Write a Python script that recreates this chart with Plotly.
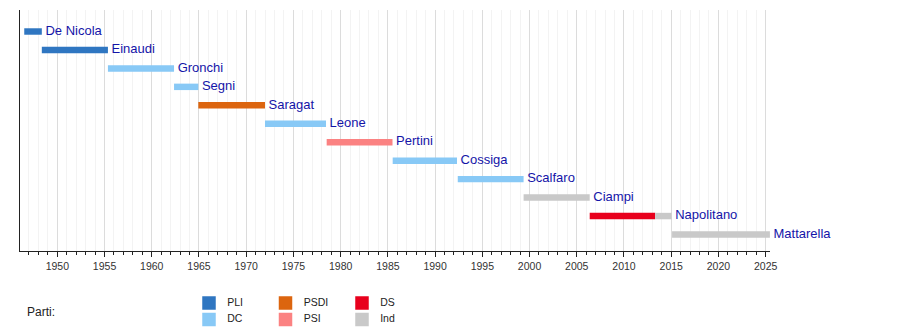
import plotly.graph_objects as go

# Presidents of the Italian Republic, terms as decimal years
presidents = ["De Nicola", "Einaudi", "Gronchi", "Segni", "Saragat", "Leone",
              "Pertini", "Cossiga", "Scalfaro", "Ciampi", "Napolitano", "Mattarella"]

# Term segments: (president index, start, end, party)
seg_row = [0, 1, 2, 3, 4, 5, 6, 7, 8, 9, 10, 10, 11]
seg_start = [1946.50, 1948.36, 1955.36, 1962.36, 1964.93, 1971.99, 1978.52,
             1985.51, 1992.40, 1999.37, 2006.37, 2013.30, 2015.09]
seg_end = [1948.36, 1955.36, 1962.36, 1964.93, 1971.99, 1978.45, 1985.49,
           1992.32, 1999.37, 2006.37, 2013.30, 2015.04, 2025.45]
seg_party = ["PLI", "PLI", "DC", "DC", "PSDI", "DC", "PSI",
             "DC", "DC", "Ind", "DS", "Ind", "Ind"]

parties = ["PLI", "DC", "PSDI", "PSI", "DS", "Ind"]
party_colors = ["#2f76c1", "#88c9f6", "#dc650f", "#fb8282", "#e8001d", "#c9c9c9"]

x_min, x_max = 1946.05, 2025.46
W, H = 900, 330
FONT = "Liberation Sans, Arial, sans-serif"

fig = go.Figure()

color_of = dict(zip(parties, party_colors))
for p in parties:
    idx = [i for i, sp in enumerate(seg_party) if sp == p]
    fig.add_trace(go.Bar(
        orientation="h",
        y=[seg_row[i] for i in idx],
        x=[seg_end[i] - seg_start[i] for i in idx],
        base=[seg_start[i] for i in idx],
        width=0.35,
        marker=dict(color=color_of[p], line=dict(width=0)),
        showlegend=False, hoverinfo="skip",
    ))

# Name labels at the end of each president's last segment
label_x = []
for r in range(len(presidents)):
    label_x.append(max(seg_end[i] for i in range(len(seg_row)) if seg_row[i] == r))
fig.add_trace(go.Scatter(
    x=label_x, y=list(range(len(presidents))),
    mode="text", text=[" " + n for n in presidents], textposition="middle right",
    textfont=dict(family=FONT, size=13, color="#1414a8"),
    cliponaxis=False, showlegend=False, hoverinfo="skip",
))

# Party key below the timeline
key_x, key_y = [], []
for k, p in enumerate(parties):
    col, row = k // 2, k % 2
    key_x.append(209 + col * 76.5)
    key_y.append(303 + row * 16.5)
fig.add_trace(go.Scatter(
    x=key_x, y=key_y, mode="markers+text",
    marker=dict(symbol="square", size=13.5, color=party_colors, line=dict(width=0)),
    text=["   " + p for p in parties], textposition="middle right",
    textfont=dict(family=FONT, size=10.5, color="#222"),
    xaxis="x2", yaxis="y2", cliponaxis=False, showlegend=False, hoverinfo="skip",
))

fig.add_annotation(x=25, y=312, xref="x2", yref="y2", text="Parti:",
                   showarrow=False, xanchor="left", yanchor="middle",
                   font=dict(family=FONT, size=12, color="#222"))

fig.update_layout(
    width=W, height=H,
    margin=dict(l=0, r=0, t=0, b=0, autoexpand=False),
    paper_bgcolor="white", plot_bgcolor="white",
    barmode="overlay",
    xaxis=dict(
        domain=[20 / W, 770 / W], range=[x_min, x_max], automargin=False,
        tick0=1950, dtick=5, ticks="outside", ticklen=5, tickcolor="#222",
        showline=True, linecolor="#222", linewidth=1,
        showgrid=True, gridcolor="#dcdcdc", gridwidth=1, zeroline=False,
        tickfont=dict(family=FONT, size=10.5, color="#333"),
        minor=dict(dtick=1, tick0=1946, ticks="outside", ticklen=3, tickcolor="#222",
                   showgrid=True, gridcolor="#f3f3f3", gridwidth=1),
        anchor="y",
    ),
    yaxis=dict(
        domain=[1 - 251 / H, 1 - 10 / H], range=[11.894, -1.165], automargin=False,
        showticklabels=False, ticks="", showgrid=False, zeroline=False,
        showline=True, linecolor="#222", linewidth=1, anchor="x",
    ),
    xaxis2=dict(domain=[0, 1], range=[0, W], visible=False, anchor="y2"),
    yaxis2=dict(domain=[0, 45 / H], range=[H, H - 45], visible=False, anchor="x2"),
)

fig.write_html("out.html")
